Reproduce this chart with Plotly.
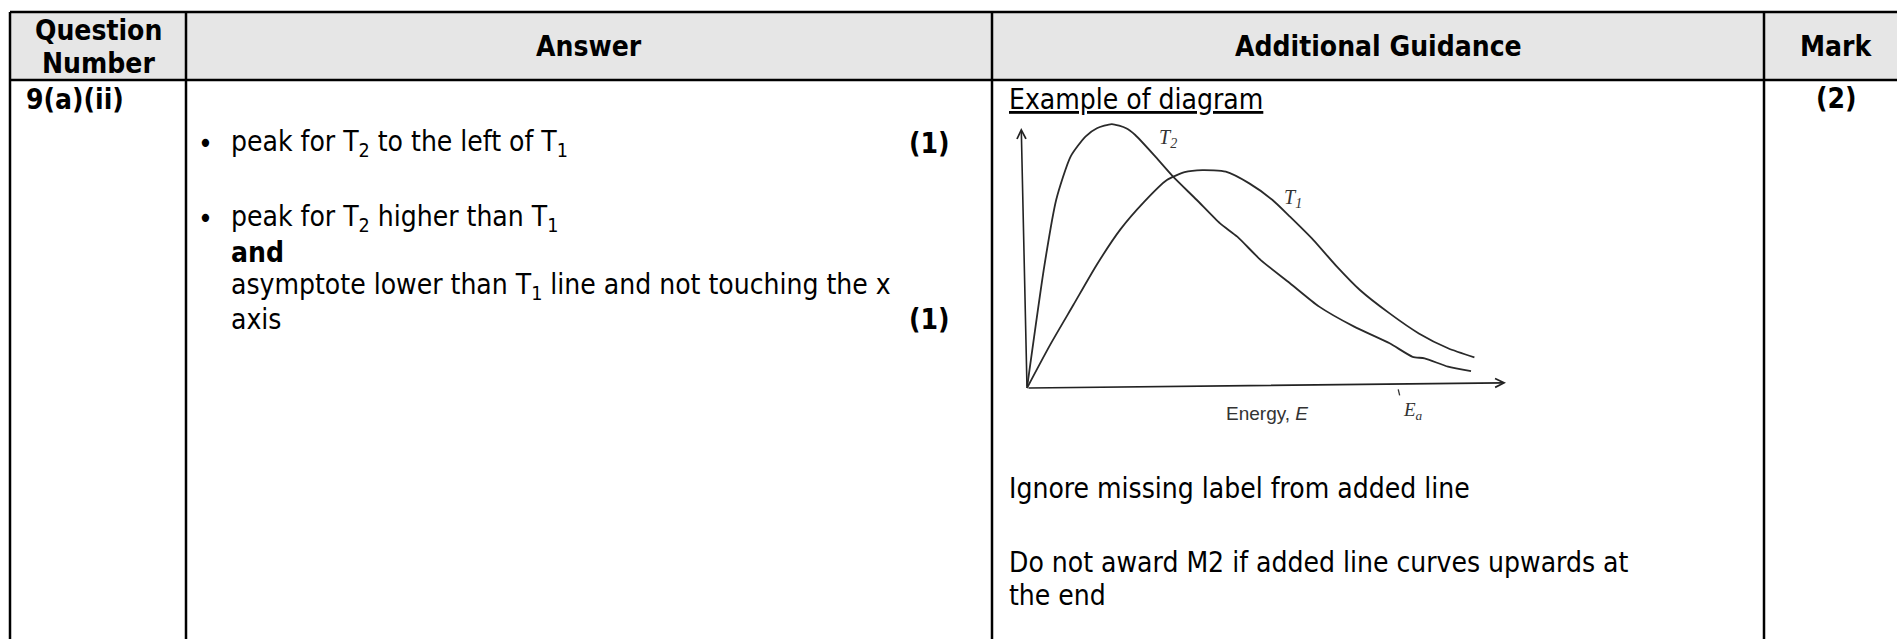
import plotly.graph_objects as go

W, H = 1897, 639

# ---------------- table content ----------------
header_labels = ["Question", "Number", "Answer", "Additional Guidance", "Mark"]
question_number = "9(a)(ii)"
answer_lines = [
    "peak for T<sub>2</sub> to the left of T<sub>1</sub>",
    "peak for T<sub>2</sub> higher than T<sub>1</sub>",
    "<b>and</b>",
    "asymptote lower than T<sub>1</sub> line and not touching the x",
    "axis",
]
answer_marks = ["(1)", "(1)"]
guidance_title = "Example of diagram"
guidance_lines = [
    "Ignore missing label from added line",
    "Do not award M2 if added line curves upwards at",
    "the end",
]
total_mark = "(2)"

# ---------------- diagram data ----------------
t2_energy = [0, 3.6, 6.1, 9.1, 12.2, 14.6, 17.7, 20.7, 22.6, 26.8, 30.5, 35.4,
             40.3, 43.9, 48.8, 54.9, 61.0, 68.3, 75.7, 80.5, 83.0, 87.9, 92.7]
t2_count = [0, 46.7, 72.4, 89.0, 96.7, 99.9, 101.5, 99.9, 97.3, 89.0, 81.3, 72.4,
            63.3, 58.2, 49.2, 40.3, 31.3, 23.6, 17.2, 12.0, 11.4, 8.2, 6.5]
t1_energy = [0, 4.8, 9.7, 14.6, 19.5, 24.4, 29.2, 32.9, 36.6, 41.5, 46.4, 51.2,
             54.9, 59.8, 64.7, 69.5, 75.7, 81.8, 87.9, 93.4]
t1_count = [0, 16.5, 32.0, 47.5, 61.0, 71.5, 80.0, 83.0, 83.8, 83.2, 78.7, 72.4,
            65.9, 56.9, 46.7, 37.7, 28.7, 21.0, 15.3, 11.8]
curve_labels = ["T<sub>2</sub>", "T<sub>1</sub>"]
curve_label_pos = [(29.5, 96.0), (55.5, 73.0)]
axis_x_end = (100, 2.0)
axis_y_end = (-1.2, 100)
x_axis_title = "Energy, <i>E</i>"
ea_label = "E<sub>a</sub>"
ea_energy = 77.5

# ---------------- layout geometry (pixels) ----------------
col_edges = [10, 186, 992, 1764, 1916]
row_top, row_head = 12, 80
FONT = "Tahoma, 'DejaVu Sans Condensed', 'Liberation Sans', sans-serif"
FS = 28
LINE = dict(color="black", width=2.5)

fig = go.Figure()

# diagram pixel anchors
ox, oy = 1027, 388          # origin of the sketch axes
px_per_e, px_per_n = 4.79, 2.6
e_rng = (-5, 105)
n_rng = (-10, 110)
dx0 = (ox + e_rng[0] * px_per_e) / W
dx1 = (ox + e_rng[1] * px_per_e) / W
dy0 = 1 - (oy - n_rng[0] * px_per_n) / H
dy1 = 1 - (oy - n_rng[1] * px_per_n) / H

curve_line = dict(color="#2a2a2a", width=1.8, shape="spline", smoothing=0.6)
fig.add_trace(go.Scatter(x=t2_energy, y=t2_count, mode="lines", line=curve_line,
                         xaxis="x2", yaxis="y2", showlegend=False, hoverinfo="skip"))
fig.add_trace(go.Scatter(x=t1_energy, y=t1_count, mode="lines", line=curve_line,
                         xaxis="x2", yaxis="y2", showlegend=False, hoverinfo="skip"))

shapes = []
shapes.append(dict(type="rect", xref="x", yref="y", x0=col_edges[0], x1=col_edges[-1], y0=row_top, y1=row_head,
                   fillcolor="#e6e6e6", line=dict(width=0), layer="below"))
shapes.append(dict(type="line", xref="x", yref="y", x0=col_edges[0], x1=col_edges[-1], y0=row_top, y1=row_top, line=LINE))
shapes.append(dict(type="line", xref="x", yref="y", x0=col_edges[0], x1=col_edges[-1], y0=row_head, y1=row_head, line=LINE))
for cx in col_edges[:-1]:
    shapes.append(dict(type="line", xref="x", yref="y", x0=cx, x1=cx, y0=row_top, y1=H + 5, line=LINE))
# Ea tick
shapes.append(dict(type="line", xref="x2", yref="y2", x0=ea_energy, x1=ea_energy + 0.3, y0=-0.5, y1=-2.8,
                   line=dict(color="#333", width=1.3)))

ann = []
def txt(x, y, s, anchor="center", size=FS, bold=False, ref=("x", "y"), family=FONT, color="black"):
    ann.append(dict(x=x, y=y, xref=ref[0], yref=ref[1], text=("<b>%s</b>" % s) if bold else s,
                    showarrow=False, xanchor=anchor, yanchor="middle",
                    font=dict(family=family, size=size, color=color)))

c1 = (col_edges[0] + col_edges[1]) / 2
c2 = (col_edges[1] + col_edges[2]) / 2
c3 = (col_edges[2] + col_edges[3]) / 2
c4 = 1836
txt(c1, 30, header_labels[0], bold=True)
txt(c1, 63, header_labels[1], bold=True)
txt(c2, 46, header_labels[2], bold=True)
txt(c3, 46, header_labels[3], bold=True)
txt(c4, 46, header_labels[4], bold=True)

txt(24, 99, question_number, anchor="left", bold=True)

ans_y = [143, 218, 252, 286, 319]
bullet_x, text_x, mark_x = 205, 229, 952
for i, s in enumerate(answer_lines):
    txt(text_x, ans_y[i], s, anchor="left")
for by in (ans_y[0], ans_y[1]):
    txt(bullet_x, by, "•", size=FS)
txt(mark_x, ans_y[0], answer_marks[0], anchor="right", bold=True)
txt(mark_x, ans_y[4], answer_marks[1], anchor="right", bold=True)

txt(1007, 99, "<u>%s</u>" % guidance_title, anchor="left")
for s, gy in zip(guidance_lines, [488, 562, 595]):
    txt(1007, gy, s, anchor="left")
txt(c4, 98, total_mark, bold=True)

# sketch annotations
SKETCH = "'Liberation Serif', serif"
for s, (ex, ny) in zip(curve_labels, curve_label_pos):
    txt(ex, ny, "<i>%s</i>" % s, size=20, ref=("x2", "y2"), family=SKETCH, color="#333")
txt(50, -9.8, x_axis_title, size=19, ref=("x2", "y2"), family="'Liberation Sans', sans-serif", color="#333")
txt(80.5, -9.0, "<i>%s</i>" % ea_label, size=19, ref=("x2", "y2"), family=SKETCH, color="#333")
for (ex, ny) in (axis_x_end, axis_y_end):
    ann.append(dict(x=ex, y=ny, ax=0, ay=0, xref="x2", yref="y2", axref="x2", ayref="y2", text="",
                    showarrow=True, arrowhead=5, arrowsize=1.1, arrowwidth=1.6, arrowcolor="#222"))

fig.update_layout(
    width=W, height=H, margin=dict(l=0, r=0, t=0, b=0),
    paper_bgcolor="white", plot_bgcolor="rgba(0,0,0,0)",
    xaxis=dict(range=[0, W], domain=[0, 1], visible=False, fixedrange=True),
    yaxis=dict(range=[H, 0], domain=[0, 1], visible=False, fixedrange=True),
    xaxis2=dict(range=list(e_rng), domain=[dx0, dx1], visible=False, anchor="y2"),
    yaxis2=dict(range=list(n_rng), domain=[dy0, dy1], visible=False, anchor="x2"),
    shapes=shapes, annotations=ann, showlegend=False,
)

fig.write_html("out.html", config={"displayModeBar": False},
               post_script="document.body.style.margin='0';document.body.style.overflow='hidden';")
